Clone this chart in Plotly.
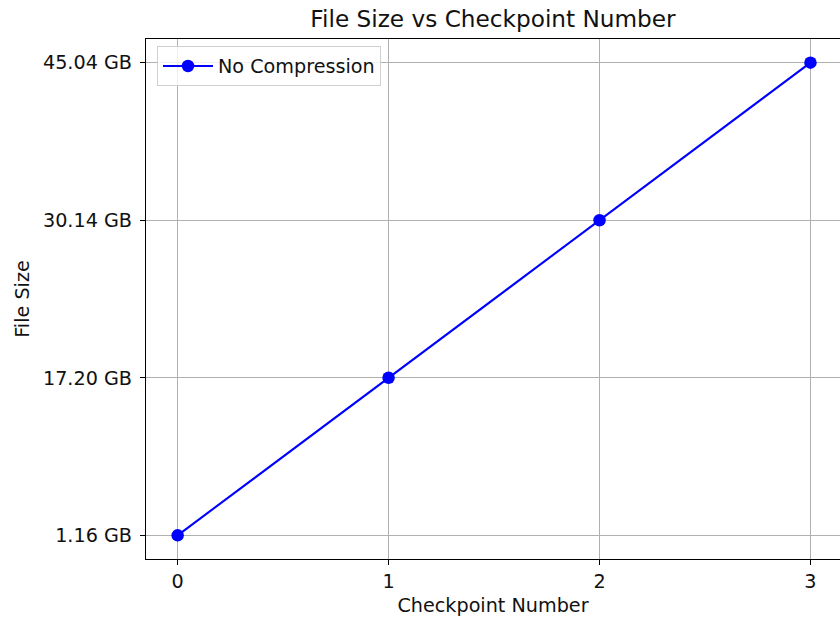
import plotly.graph_objects as go

checkpoints = [0, 1, 2, 3]
size_labels = ["1.16 GB", "17.20 GB", "30.14 GB", "45.04 GB"]
series_name = "No Compression"

fig = go.Figure()
fig.add_trace(go.Scatter(
    x=checkpoints, y=size_labels, mode="lines+markers", name=series_name,
    line=dict(color="#0000ff", width=2.1),
    marker=dict(color="#0000ff", size=12.5),
))

font = "DejaVu Sans, sans-serif"
fs = 19.2
fig.update_layout(
    width=840, height=618,
    margin=dict(l=146, r=0, t=39, b=59),
    paper_bgcolor="white", plot_bgcolor="white",
    font=dict(family=font, size=fs, color="#111111"),
    title=dict(text="File Size vs Checkpoint Number", x=0.5, xref="paper",
               xanchor="center", y=1 - 19 / 618, yanchor="middle",
               font=dict(size=23.2, family=font)),
    showlegend=True,
    legend=dict(x=11 / 694, y=1 - 7 / 519, xanchor="left", yanchor="top",
                itemwidth=50,
                bgcolor="rgba(255,255,255,0.8)", bordercolor="#d0d0d0", borderwidth=1,
                font=dict(size=fs, family=font)),
    xaxis=dict(range=[-0.15, 3.14], tickmode="array", tickvals=checkpoints,
               ticktext=[str(c) for c in checkpoints],
               showgrid=True, gridcolor="#b0b0b0", gridwidth=1.1,
               showline=True, linecolor="black", linewidth=1.3, mirror=True,
               ticks="outside", ticklen=5, tickcolor="black", zeroline=False,
               title=dict(text="Checkpoint Number", standoff=6, font=dict(size=fs))),
    yaxis=dict(type="category", categoryorder="array", categoryarray=size_labels,
               range=[-0.15, 3.15],
               showgrid=True, gridcolor="#b0b0b0", gridwidth=1.1,
               showline=True, linecolor="black", linewidth=1.3,
               ticks="outside", ticklen=5, tickcolor="black", zeroline=False,
               ticklabelstandoff=4,
               title=dict(text="File Size", standoff=8, font=dict(size=fs))),
)

fig.write_html("out.html", config={"displayModeBar": False},
               post_script="document.body.style.margin='0';document.body.style.overflow='hidden';")
